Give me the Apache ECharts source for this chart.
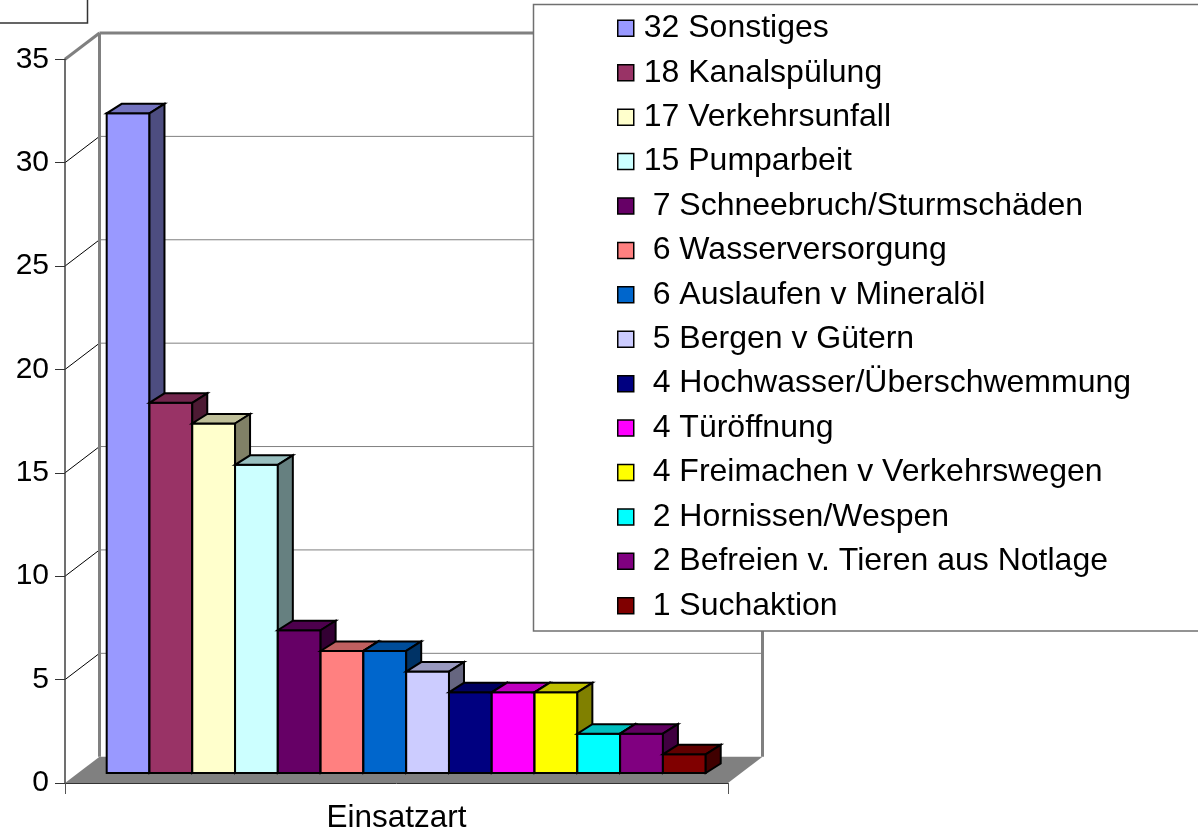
<!DOCTYPE html>
<html><head><meta charset="utf-8">
<script src="https://cdn.jsdelivr.net/npm/echarts@6/dist/echarts.min.js"></script>
<style>html,body{margin:0;padding:0;background:#fff}#c{width:1198px;height:834px}</style>
</head><body><div id="c"></div>
<script>
// ---- data ----
const categories = ['Einsatzart'];
const seriesNames = ['32 Sonstiges', '18 Kanalspülung', '17 Verkehrsunfall', '15 Pumparbeit',
  ' 7 Schneebruch/Sturmschäden', ' 6 Wasserversorgung', ' 6 Auslaufen v Mineralöl', ' 5 Bergen v Gütern',
  ' 4 Hochwasser/Überschwemmung', ' 4 Türöffnung', ' 4 Freimachen v Verkehrswegen', ' 2 Hornissen/Wespen',
  ' 2 Befreien v. Tieren aus Notlage', ' 1 Suchaktion'];
const seriesValues = [32, 18, 17, 15, 7, 6, 6, 5, 4, 4, 4, 2, 2, 1];
const seriesColors = ['#9999ff', '#993366', '#ffffcc', '#ccffff', '#660066', '#ff8080', '#0066cc',
  '#ccccff', '#000080', '#ff00ff', '#ffff00', '#00ffff', '#800080', '#800000'];
const yTicks = [0, 5, 10, 15, 20, 25, 30, 35];

// ---- style constants (pseudo 3D) ----
const DX = 34.5, DY = -26.3;          // depth of the chart box
const BDX = 15, BDY = -9.5;           // depth of a bar
const BAR_SPAN = 0.9035, BAR_SHIFT = 9.7;
const BAR_TOP_DY = -8, BAR_BOTTOM_DY = -10;
const FONT = "'Liberation Sans', Arial, sans-serif";

function shade(hex, f) {
  const n = parseInt(hex.slice(1), 16);
  const r = Math.round(((n >> 16) & 255) * f), g = Math.round(((n >> 8) & 255) * f), b = Math.round((n & 255) * f);
  return 'rgb(' + r + ',' + g + ',' + b + ')';
}

function renderFrame(params, api) {
  const cs = params.coordSys;
  const x0 = cs.x, x1 = cs.x + cs.width;
  const yb = api.coord([0, yTicks[0]])[1];
  const yt = api.coord([0, yTicks[yTicks.length - 1]])[1];
  const ch = [];
  ch.push({ type: 'polygon', shape: { points: [[x0, yb], [x1, yb], [x1 + DX, yb + DY], [x0 + DX, yb + DY]] },
    style: { fill: '#808080' } });
  yTicks.forEach((v, k) => {
    if (k === 0) return;
    const y = api.coord([0, v])[1];
    const top = k === yTicks.length - 1;
    ch.push({ type: 'line', shape: { x1: x0 + DX, y1: y + DY, x2: x1 + DX, y2: y + DY },
      style: { stroke: '#808080', lineWidth: top ? 3 : 1 } });
    ch.push({ type: 'line', shape: { x1: x0, y1: y, x2: x0 + DX, y2: y + DY },
      style: { stroke: top ? '#808080' : '#000', lineWidth: top ? 3 : 1 } });
  });
  ch.push({ type: 'line', shape: { x1: x0 + DX, y1: yt + DY, x2: x0 + DX, y2: yb + DY },
    style: { stroke: '#808080', lineWidth: 3 } });
  ch.push({ type: 'line', shape: { x1: x1 + DX, y1: yt + DY, x2: x1 + DX, y2: yb + DY },
    style: { stroke: '#808080', lineWidth: 3 } });
  return { type: 'group', children: ch };
}

function makeBar(i) {
  return function (params, api) {
    const c = api.coord([api.value(0), api.value(1)]);
    const c0 = api.coord([api.value(0), 0]);
    const band = api.size([1, 0])[0];
    const w = band * BAR_SPAN / seriesValues.length;
    const L = c[0] - band * BAR_SPAN / 2 + BAR_SHIFT + i * w;
    const R = L + w;
    const top = c[1] + BAR_TOP_DY;
    const bot = c0[1] + BAR_BOTTOM_DY;
    const col = api.visual('color');
    const st = { stroke: '#000', lineWidth: 2, lineJoin: 'miter' };
    return { type: 'group', children: [
      { type: 'polygon', shape: { points: [[L, top], [R, top], [R, bot], [L, bot]] },
        style: Object.assign({ fill: col }, st) },
      { type: 'polygon', shape: { points: [[L, top], [R, top], [R + BDX, top + BDY], [L + BDX, top + BDY]] },
        style: Object.assign({ fill: shade(col, 0.75) }, st) },
      { type: 'polygon', shape: { points: [[R, top], [R + BDX, top + BDY], [R + BDX, bot + BDY], [R, bot]] },
        style: Object.assign({ fill: shade(col, 0.5) }, st) }
    ] };
  };
}

const series = [{
  type: 'custom', name: '__frame', silent: true, renderItem: renderFrame, data: [[0, 0]], z: 1
}].concat(seriesNames.map((name, i) => ({
  type: 'custom', name: name, renderItem: makeBar(i), data: [[0, seriesValues[i]]],
  itemStyle: { color: seriesColors[i] }, z: 2
})));

const chart = echarts.init(document.getElementById('c'), null, { renderer: 'canvas' });
chart.setOption({
  animation: false,
  backgroundColor: '#fff',
  textStyle: { fontFamily: FONT },
  grid: { left: 65, top: 59.3, width: 663, height: 724 },
  xAxis: {
    type: 'category', data: categories, z: 3,
    axisLine: { show: true, lineStyle: { color: '#333', width: 1 } },
    axisTick: { show: true, length: 11, lineStyle: { color: '#555' } },
    axisLabel: { fontSize: 31.5, color: '#000', margin: 19, fontFamily: FONT },
    splitLine: { show: false }
  },
  yAxis: {
    type: 'value', min: 0, max: 35, interval: 5, z: 3,
    axisLine: { show: true, lineStyle: { color: '#404040', width: 1.5 } },
    axisTick: { show: true, length: 10, lineStyle: { color: '#333' } },
    axisLabel: { fontSize: 30, color: '#000', margin: 16, fontFamily: FONT },
    splitLine: { show: false }
  },
  legend: {
    data: seriesNames, orient: 'vertical', left: 617, top: 12.3, padding: 0,
    icon: 'rect', itemWidth: 16, itemHeight: 16, itemGap: 12.42, selectedMode: false,
    itemStyle: { borderColor: '#000', borderWidth: 1.5 },
    textStyle: { fontSize: 32, color: '#000', fontFamily: FONT, padding: [0, 0, 0, 5] }
  },
  graphic: [
    { type: 'rect', z: 3, shape: { x: 533.5, y: 4.5, width: 700, height: 626.5 },
      style: { fill: '#fff', stroke: '#707070', lineWidth: 1.5 } },
    { type: 'rect', z: 3, shape: { x: -2, y: -2, width: 89.5, height: 25 },
      style: { fill: '#fff', stroke: '#333', lineWidth: 1.5 } }
  ],
  series: series
});
</script>
</body></html>
